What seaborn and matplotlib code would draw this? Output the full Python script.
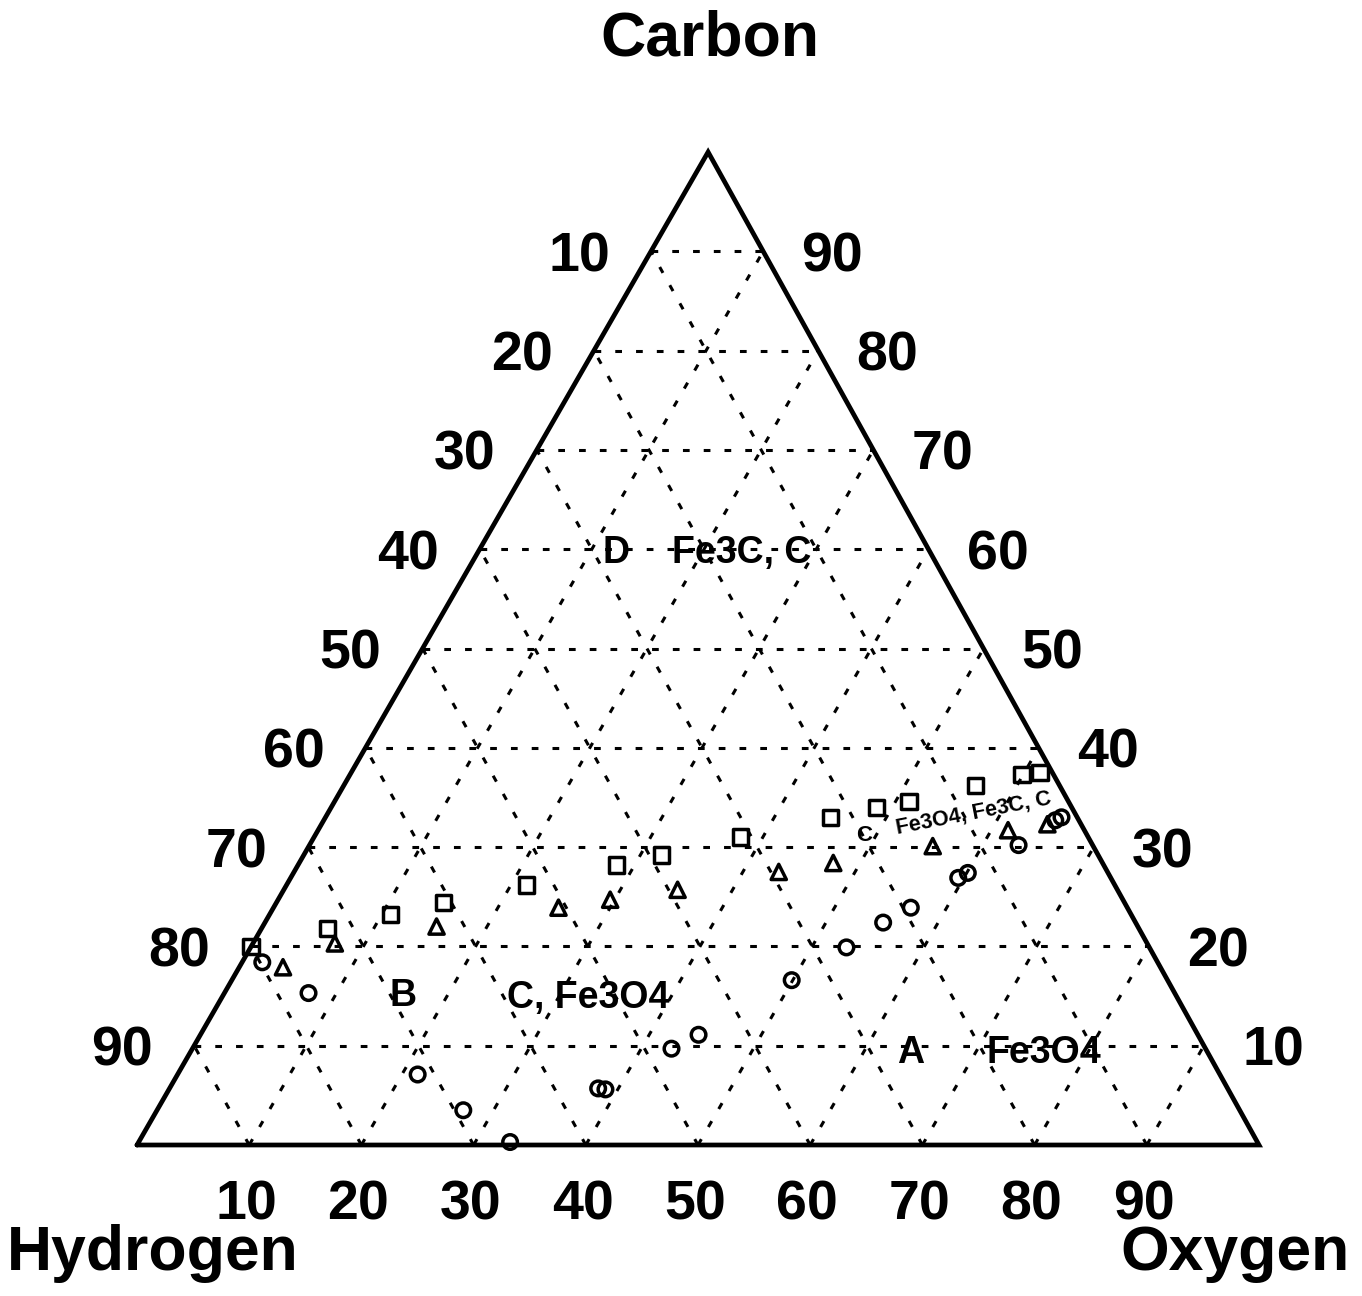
import numpy as np
import pandas as pd
import matplotlib
matplotlib.use("Agg")
import matplotlib.pyplot as plt
import seaborn as sns

# Measured compositions (atomic %). Hydrogen is the remainder: H = 100 - C - O.
square_C = [20.0, 21.8, 23.2, 24.4, 26.2, 28.2, 29.2, 31.0, 33.0, 34.0, 34.6, 36.2, 37.3, 37.5]
square_O = [0.0, 5.9, 10.8, 14.9, 21.4, 28.4, 31.9, 38.0, 45.0, 48.6, 51.2, 56.3, 59.9, 61.4]

triangle_C = [17.9, 20.3, 22.0, 23.9, 24.7, 25.7, 27.5, 28.4, 30.1, 31.7, 32.3]
triangle_O = [3.9, 7.3, 15.5, 25.4, 29.6, 35.1, 43.2, 47.6, 55.6, 61.5, 64.7]

circle_C = [18.4, 15.3, 7.1, 3.5, 0.3, 5.7, 5.6, 9.7, 11.1, 16.6, 19.9, 22.4, 23.9,
            26.9, 27.4, 30.2, 32.7, 33.0]
circle_O = [1.8, 7.5, 21.4, 27.3, 33.1, 38.2, 38.9, 42.7, 44.4, 49.9, 53.1, 55.1, 56.8,
            59.5, 60.1, 63.2, 65.2, 65.6]

grid_levels = [10, 20, 30, 40, 50, 60, 70, 80, 90]
left_labels = ["10", "20", "30", "40", "50", "60", "70", "80", "90"]    # hydrogen
right_labels = ["90", "80", "70", "60", "50", "40", "30", "20", "10"]   # carbon
bottom_labels = ["10", "20", "30", "40", "50", "60", "70", "80", "90"]  # oxygen

# Ternary geometry: base length 100, apex slightly right of centre
APEX_SHIFT = 0.509
HEIGHT = 0.885


def to_xy(c, o):
    c = np.asarray(c, dtype=float)
    o = np.asarray(o, dtype=float)
    return o + APEX_SHIFT * c, HEIGHT * c


sns.set_theme(style="white")
plt.rcParams["font.family"] = ["Liberation Sans", "DejaVu Sans"]
plt.rcParams["font.weight"] = "bold"
plt.rcParams["text.color"] = "black"

W, H = 1362, 1296
fig = plt.figure(figsize=(W / 100, H / 100), dpi=100)
ax = fig.add_axes([0, 0, 1, 1])
ax.set_xlim(-137 / 11.22, (W - 137) / 11.22)
ax.set_ylim(-(H - 1145) / 11.22, 1145 / 11.22)
ax.set_axis_off()

# Dashed grid lines parallel to each side
dash = dict(color="black", lw=2.2, linestyle=(0, (2.2, 4.6)), zorder=1)
for k in grid_levels:
    # constant carbon (horizontal)
    x, y = to_xy([k, k], [0, 100 - k])
    ax.plot(x, y, **dash)
    # constant oxygen
    x, y = to_xy([0, 100 - k], [k, k])
    ax.plot(x, y, **dash)
    # constant hydrogen
    x, y = to_xy([0, 100 - k], [100 - k, 0])
    ax.plot(x, y, **dash)

# Triangle outline
x, y = to_xy([0, 100, 0, 0], [0, 0, 100, 0])
ax.plot(x, y, color="black", lw=3.4, solid_joinstyle="miter", zorder=2)

# Data points
series = [
    (square_C, square_O, "s", 125),
    (triangle_C, triangle_O, "^", 120),
    (circle_C, circle_O, "o", 110),
]
for cvals, ovals, mk, size in series:
    px, py = to_xy(cvals, ovals)
    df = pd.DataFrame({"x": px, "y": py})
    sns.scatterplot(data=df, x="x", y="y", marker=mk, s=size, color="black",
                    edgecolor="black", linewidth=2.5, legend=False, ax=ax, zorder=3)
for coll in ax.collections:
    coll.set_facecolor("none")
    coll.set_edgecolor("black")

ax.set_xlabel("")
ax.set_ylabel("")

PT = 72 / 100  # points per pixel
tick_fs = 40

# Edge labels
for k, lab in zip(grid_levels, left_labels):
    x, y = to_xy(100 - k, 0)
    ax.annotate(lab, (x, y), xytext=(-72 * PT, -20 * PT), textcoords="offset points",
                ha="center", va="baseline", fontsize=tick_fs, fontweight="bold")
for k, lab in zip(grid_levels[::-1], right_labels):
    x, y = to_xy(k, 100 - k)
    ax.annotate(lab, (x, y), xytext=(69 * PT, -20 * PT), textcoords="offset points",
                ha="center", va="baseline", fontsize=tick_fs, fontweight="bold")
for k, lab in zip(grid_levels, bottom_labels):
    x, y = to_xy(0, k)
    ax.annotate(lab, (x, y), xytext=(-3 * PT, -74 * PT), textcoords="offset points",
                ha="center", va="baseline", fontsize=tick_fs, fontweight="bold")

# Corner titles
title_fs = 45
x, y = to_xy(100, 0)
ax.annotate("Carbon", (x, y), xytext=(2 * PT, 97 * PT), textcoords="offset points",
            ha="center", va="baseline", fontsize=title_fs, fontweight="bold")
x, y = to_xy(0, 0)
ax.annotate("Hydrogen", (x, y), xytext=(16 * PT, -125 * PT), textcoords="offset points",
            ha="center", va="baseline", fontsize=title_fs, fontweight="bold")
x, y = to_xy(0, 100)
ax.annotate("Oxygen", (x, y), xytext=(-24 * PT, -125 * PT), textcoords="offset points",
            ha="center", va="baseline", fontsize=title_fs, fontweight="bold")


def ftext(px, py, s, **kw):
    fig.text(px / W, 1 - py / H, s, fontweight="bold", **kw)


# Phase-region labels
region_fs = 27
ftext(616, 563, "D", ha="center", va="baseline", fontsize=region_fs)
ftext(742, 563, "Fe3C, C", ha="center", va="baseline", fontsize=region_fs)
ftext(403, 1006, "B", ha="center", va="baseline", fontsize=region_fs)
ftext(588, 1008, "C, Fe3O4", ha="center", va="baseline", fontsize=region_fs)
ftext(911, 1063, "A", ha="center", va="baseline", fontsize=region_fs)
ftext(1044, 1063, "Fe3O4", ha="center", va="baseline", fontsize=region_fs)
ftext(864, 841, "C", ha="center", va="baseline", fontsize=16)
ftext(974, 813, "Fe3O4, Fe3C, C", ha="center", va="center", fontsize=15.5,
      rotation=11, rotation_mode="anchor")

fig.savefig("out.png", dpi=100, facecolor="white")
